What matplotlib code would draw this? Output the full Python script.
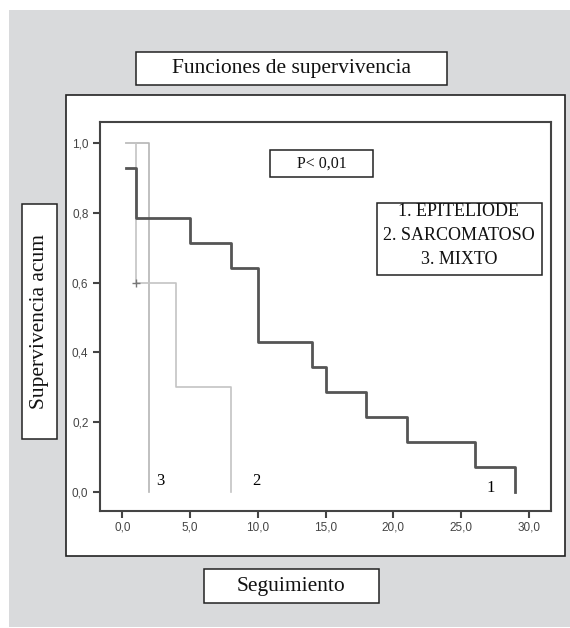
import matplotlib
matplotlib.use("Agg")
import matplotlib.pyplot as plt
from matplotlib.patches import Rectangle

# Kaplan-Meier curves (time, cumulative survival)
t_epit = [0.3, 1, 5, 8, 10, 14, 15, 18, 21, 26, 29]
s_epit = [0.929, 0.786, 0.714, 0.643, 0.429, 0.357, 0.286, 0.214, 0.143, 0.071, 0.0]
t_sarc = [0.3, 1, 4, 8]
s_sarc = [1.0, 0.6, 0.3, 0.0]
t_mixto = [0.3, 2]
s_mixto = [1.0, 0.0]
censor_t = [1]
censor_s = [0.6]

x_ticks = [0, 5, 10, 15, 20, 25, 30]
y_ticks = [0.0, 0.2, 0.4, 0.6, 0.8, 1.0]
legend_lines = ["1. EPITELIODE", "2. SARCOMATOSO", "3. MIXTO"]

W, H = 570, 628
fig = plt.figure(figsize=(W / 100, H / 100), dpi=100)
serif = "Liberation Serif"
sans = "Liberation Sans"

# background layer in pixel coords
bg = fig.add_axes([0, 0, 1, 1], zorder=0)
bg.set_xlim(0, W)
bg.set_ylim(H, 0)
bg.axis("off")
bg.add_patch(Rectangle((9, 10), W - 9, H - 11, facecolor="#d9dadc", edgecolor="none"))
bg.add_patch(Rectangle((66, 95), 499, 461, facecolor="white", edgecolor="#222", lw=1.2))


def box(a, x0, y0, x1, y1, text, size, rot=0):
    a.add_patch(Rectangle((x0, y0), x1 - x0, y1 - y0, facecolor="white",
                          edgecolor="#222", lw=1.1))
    a.text((x0 + x1) / 2, (y0 + y1) / 2, text, ha="center", va="center",
           fontsize=size, family=serif, rotation=rot, color="#111")


box(bg, 136, 52, 447, 85, "Funciones de supervivencia", 15.5)
box(bg, 204, 569, 379, 603, "Seguimiento", 15.5)
box(bg, 22, 204, 57, 439, "Supervivencia acum", 15.5, rot=90)

# main axes
l, r, top, bot = 99.5, 551, 122, 510.7
ax = fig.add_axes([l / W, (H - bot) / H, (r - l) / W, (bot - top) / H], zorder=2)
ax.set_xlim(-1.68, 31.64)
ax.set_ylim(-0.054, 1.061)

ax.step(t_mixto, s_mixto, where="post", color="#b5b5b5", lw=1.2)
ax.step(t_sarc, s_sarc, where="post", color="#c4c4c4", lw=1.2)
ax.step(t_epit, s_epit, where="post", color="#555555", lw=2)
ax.plot(censor_t, censor_s, "+", color="#777", ms=6, mew=1)

ax.text(2.8, 0.032, "3", family=serif, fontsize=12, ha="center", va="center")
ax.text(9.9, 0.032, "2", family=serif, fontsize=12, ha="center", va="center")
ax.text(27.2, 0.012, "1", family=serif, fontsize=12, ha="center", va="center")

ax.set_xticks(x_ticks)
ax.set_xticklabels([f"{v:.1f}".replace(".", ",") for v in x_ticks])
ax.set_yticks(y_ticks)
ax.set_yticklabels([f"{v:.1f}".replace(".", ",") for v in y_ticks])
ax.tick_params(direction="out", length=5, width=1.5, color="#444",
               labelsize=8.5, labelcolor="#444", pad=3)
for lab in ax.get_xticklabels() + ax.get_yticklabels():
    lab.set_family(sans)
for sp in ax.spines.values():
    sp.set_color("#444")
    sp.set_linewidth(1.5)

# P-value and legend boxes, above the plot axes
fg = fig.add_axes([0, 0, 1, 1], zorder=3)
fg.set_xlim(0, W)
fg.set_ylim(H, 0)
fg.axis("off")
fg.patch.set_alpha(0)
box(fg, 270, 150, 373, 177, "P< 0,01", 11.5)
fg.add_patch(Rectangle((377, 203), 165, 72, facecolor="white", edgecolor="#222", lw=1.1))
for yy, txt in zip([212, 236, 260], legend_lines):
    fg.text(459, yy, txt, ha="center", va="center", fontsize=13, family=serif, color="#111")

fig.savefig("out.png", dpi=100)
